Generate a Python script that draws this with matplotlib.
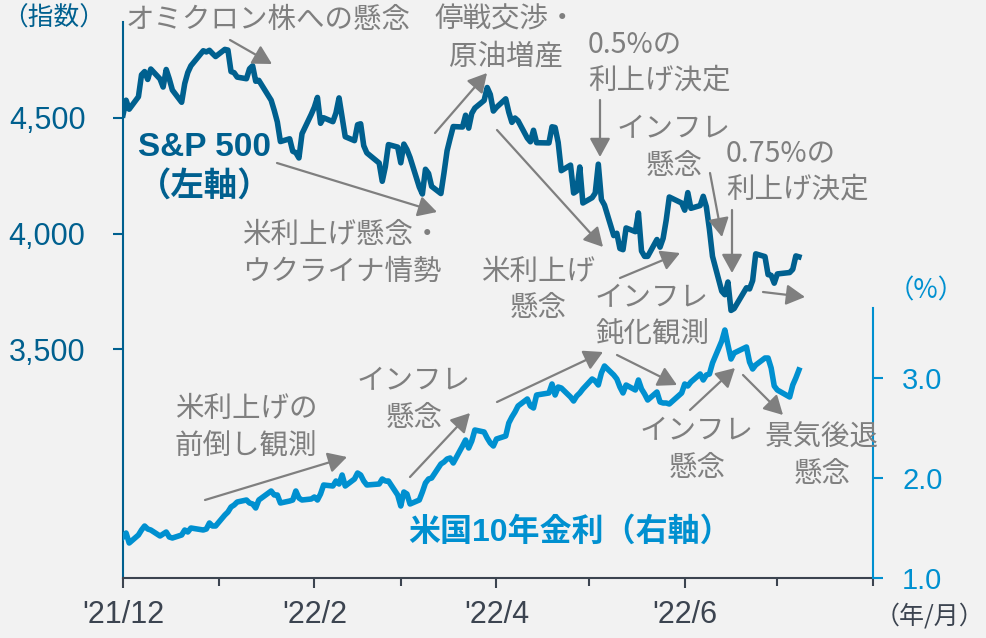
import matplotlib
matplotlib.use('Agg')
import matplotlib.pyplot as plt
import matplotlib.dates as mdates
import matplotlib.ticker as mticker
import pandas as pd

# 営業日 (米国市場の休日を除く)
holidays = ['2021-12-24', '2022-01-17', '2022-02-21', '2022-04-15',
            '2022-05-30', '2022-06-20', '2022-07-04']
dates = pd.bdate_range('2021-12-01', '2022-07-08')
dates = dates[~dates.isin(pd.to_datetime(holidays))]

# S&P500 終値 (月ごと)
spx_dec = [4513, 4577, 4538, 4592, 4687, 4701, 4667, 4712, 4669, 4634, 4710,
           4669, 4621, 4568, 4649, 4697, 4726, 4791, 4786, 4793, 4779, 4766]
spx_jan = [4797, 4794, 4701, 4696, 4677, 4670, 4713, 4726, 4659, 4663, 4577,
           4533, 4483, 4398, 4410, 4356, 4350, 4327, 4432, 4516]
spx_feb = [4547, 4589, 4477, 4501, 4484, 4522, 4587, 4504, 4419, 4402, 4471,
           4475, 4380, 4349, 4305, 4226, 4289, 4385, 4374]
spx_mar = [4306, 4387, 4363, 4329, 4201, 4171, 4278, 4260, 4204, 4173, 4262,
           4358, 4412, 4463, 4461, 4512, 4456, 4520, 4543, 4576, 4632, 4602, 4530]
spx_apr = [4546, 4583, 4525, 4481, 4500, 4488, 4413, 4397, 4447, 4393, 4392,
           4462, 4459, 4394, 4272, 4296, 4175, 4184, 4288, 4132]
spx_may = [4155, 4175, 4300, 4147, 4123, 3991, 4001, 3935, 3930, 4024, 4008,
           4089, 3924, 3901, 3901, 3974, 3941, 3979, 4058, 4158, 4132]
spx_jun = [4101, 4177, 4109, 4121, 4161, 4116, 4018, 3901, 3750, 3735, 3790,
           3667, 3675, 3765, 3760, 3796, 3912, 3900, 3822, 3819, 3785]
spx_jul = [3825, 3831, 3845, 3903, 3899]

# 米国10年国債利回り (%)
y10_dec = [1.41, 1.45, 1.35, 1.43, 1.48, 1.52, 1.49, 1.48, 1.42, 1.44, 1.46,
           1.41, 1.40, 1.43, 1.48, 1.46, 1.50, 1.48, 1.49, 1.55, 1.52, 1.52]
y10_jan = [1.63, 1.66, 1.71, 1.73, 1.76, 1.78, 1.75, 1.74, 1.70, 1.78, 1.87,
           1.83, 1.83, 1.75, 1.77, 1.78, 1.87, 1.80, 1.78, 1.79]
y10_feb = [1.81, 1.78, 1.84, 1.93, 1.92, 1.97, 1.94, 2.03, 1.92, 1.99, 2.05,
           2.03, 1.97, 1.93, 1.94, 1.99, 1.97, 1.97, 1.83]
y10_mar = [1.72, 1.86, 1.84, 1.74, 1.78, 1.86, 1.95, 1.99, 2.00, 2.14, 2.16,
           2.19, 2.20, 2.15, 2.32, 2.38, 2.30, 2.37, 2.48, 2.46, 2.40, 2.35, 2.32]
y10_apr = [2.39, 2.42, 2.55, 2.61, 2.66, 2.72, 2.79, 2.72, 2.70, 2.83, 2.85,
           2.94, 2.83, 2.91, 2.90, 2.81, 2.77, 2.82, 2.85, 2.89]
y10_may = [2.99, 2.97, 2.93, 3.05, 3.12, 3.03, 2.99, 2.91, 2.85, 2.93, 2.88,
           2.98, 2.89, 2.84, 2.78, 2.86, 2.76, 2.75, 2.75, 2.74, 2.85]
y10_jun = [2.94, 2.92, 2.96, 3.04, 2.98, 3.03, 3.04, 3.15, 3.37, 3.48, 3.33,
           3.19, 3.25, 3.31, 3.16, 3.09, 3.13, 3.20, 3.20, 3.10, 2.92]
y10_jul = [2.88, 2.81, 2.93, 3.00, 3.08]

spx = spx_dec + spx_jan + spx_feb + spx_mar + spx_apr + spx_may + spx_jun + spx_jul
y10 = y10_dec + y10_jan + y10_feb + y10_mar + y10_apr + y10_may + y10_jun + y10_jul

left_ticks = [3500, 4000, 4500]
right_ticks = [1.0, 2.0, 3.0]
x_labels = ["'21/12", "'22/2", "'22/4", "'22/6"]

DARK = '#00608f'
LIGHT = '#0090d0'
GRAY = '#7f7f7f'
AXGRAY = '#3c4450'
JP = ['Noto Sans CJK JP', 'DejaVu Sans']
EN = ['Liberation Sans', 'Noto Sans CJK JP']

W, H = 986, 638
fig = plt.figure(figsize=(W / 100, H / 100), dpi=100, facecolor='#f2f2f2')
ax = fig.add_axes([123 / W, 60 / H, 750 / W, 578 / H])
ax.set_facecolor('none')
ax2 = ax.twinx()

ax.plot(dates, spx, color=DARK, lw=4.0, solid_joinstyle='round', zorder=3)
ax2.plot(dates, y10, color=LIGHT, lw=4.0, solid_joinstyle='round', zorder=3)

ax.set_xlim(pd.Timestamp('2021-12-01'), pd.Timestamp('2022-08-01'))
ax.set_ylim(2508.7, 5010.8)
ax2.set_ylim(1.0, 6.78)

# x軸
ax.xaxis.set_major_locator(mdates.MonthLocator(bymonth=[12, 2, 4, 6]))
ax.xaxis.set_minor_locator(mdates.MonthLocator(bymonth=[1, 3, 5, 7, 8]))
ax.xaxis.set_major_formatter(mticker.FixedFormatter(x_labels))
ax.tick_params(axis='x', which='major', length=7, width=1.5, color=AXGRAY,
               pad=9, labelsize=22, labelcolor=AXGRAY)
ax.tick_params(axis='x', which='minor', length=5.5, width=1.5, color=AXGRAY)
for lab in ax.get_xticklabels():
    lab.set_family(EN)

# 左軸
ax.set_yticks(left_ticks)
ax.yaxis.set_major_formatter(mticker.FuncFormatter(lambda v, p: f'{int(v):,}'))
ax.tick_params(axis='y', length=7, width=1.5, color=DARK, pad=20,
               labelsize=22, labelcolor=DARK)
for lab in ax.get_yticklabels():
    lab.set_family(EN)

# 右軸
ax2.set_yticks(right_ticks)
ax2.yaxis.set_major_formatter(mticker.FormatStrFormatter('%.1f'))
ax2.tick_params(axis='y', length=7, width=1.5, color=LIGHT, pad=14,
                labelsize=21, labelcolor=LIGHT)
for lab in ax2.get_yticklabels():
    lab.set_family(EN)

for s in ['top', 'right']:
    ax.spines[s].set_visible(False)
ax.spines['left'].set_color(DARK)
ax.spines['left'].set_linewidth(1.5)
ax.spines['left'].set_bounds(2508.7, 4916)
ax.spines['bottom'].set_color(AXGRAY)
ax.spines['bottom'].set_linewidth(1.5)
for s in ['top', 'left', 'bottom']:
    ax2.spines[s].set_visible(False)
ax2.spines['right'].set_color(LIGHT)
ax2.spines['right'].set_linewidth(1.5)
ax2.spines['right'].set_bounds(1.0, 3.7)


def px(x, y):
    return (x, H - y)


def note(lines, x, y, ha='center', dy=36.5, **kw):
    kw.setdefault('color', GRAY)
    kw.setdefault('fontsize', 20.5)
    kw.setdefault('family', JP)
    for i, t in enumerate(lines):
        fig.text(*px(x, y + i * dy), t, ha=ha, va='center',
                 transform=None, **kw)


def arrow(x0, y0, x1, y1):
    ax.annotate('', xy=px(x1, y1), xytext=px(x0, y0),
                xycoords='figure pixels', textcoords='figure pixels',
                arrowprops=dict(arrowstyle='-|>,head_length=0.6,head_width=0.33',
                                mutation_scale=19, color=GRAY, lw=1.6,
                                shrinkA=0, shrinkB=0),
                annotation_clip=False, zorder=5)


note(['オミクロン株への懸念'], 268, 20)
note(['停戦交渉・', '原油増産'], 506, 20)
note(['0.5%の', '利上げ決定'], 588, 44, ha='left')
note(['インフレ', '懸念'], 674, 129)
note(['0.75%の', '利上げ決定'], 726, 153, ha='left')
note(['米利上げ懸念・', 'ウクライナ情勢'], 242, 235, ha='left')
note(['米利上げ', '懸念'], 538, 272)
note(['インフレ', '鈍化観測'], 652, 298)
note(['インフレ', '懸念'], 697, 431)
note(['景気後退', '懸念'], 822, 438)
note(['インフレ', '懸念'], 414, 381)
note(['米利上げの', '前倒し観測'], 246, 409)

note(['S&P 500', '（左軸）'], 205, 148, dy=39, color=DARK, fontsize=24,
     family=EN, fontweight='bold')
note(['米国10年金利（右軸）'], 408, 532, ha='left', color=LIGHT, fontsize=23,
     family=EN, fontweight='bold')
note(['（指数）'], 2, 19, ha='left', color=DARK, fontsize=18.5)
note(['（%）'], 888, 291, ha='left', color=LIGHT, fontsize=19)
note(['（年/月）'], 984, 616, ha='right', color=AXGRAY, fontsize=18)

arrow(230, 40, 272, 64)
arrow(435, 133, 487, 73)
arrow(600, 100, 600, 157)
arrow(710, 173, 722, 237)
arrow(732, 210, 732, 273)
arrow(763, 292, 805, 297)
arrow(277, 163, 437, 212)
arrow(497, 130, 603, 247)
arrow(620, 278, 680, 253)
arrow(497, 402, 603, 352)
arrow(617, 355, 677, 385)
arrow(690, 410, 735, 368)
arrow(743, 375, 783, 415)
arrow(410, 477, 470, 413)
arrow(205, 500, 347, 457)

fig.savefig('out.png', dpi=100, facecolor=fig.get_facecolor())
